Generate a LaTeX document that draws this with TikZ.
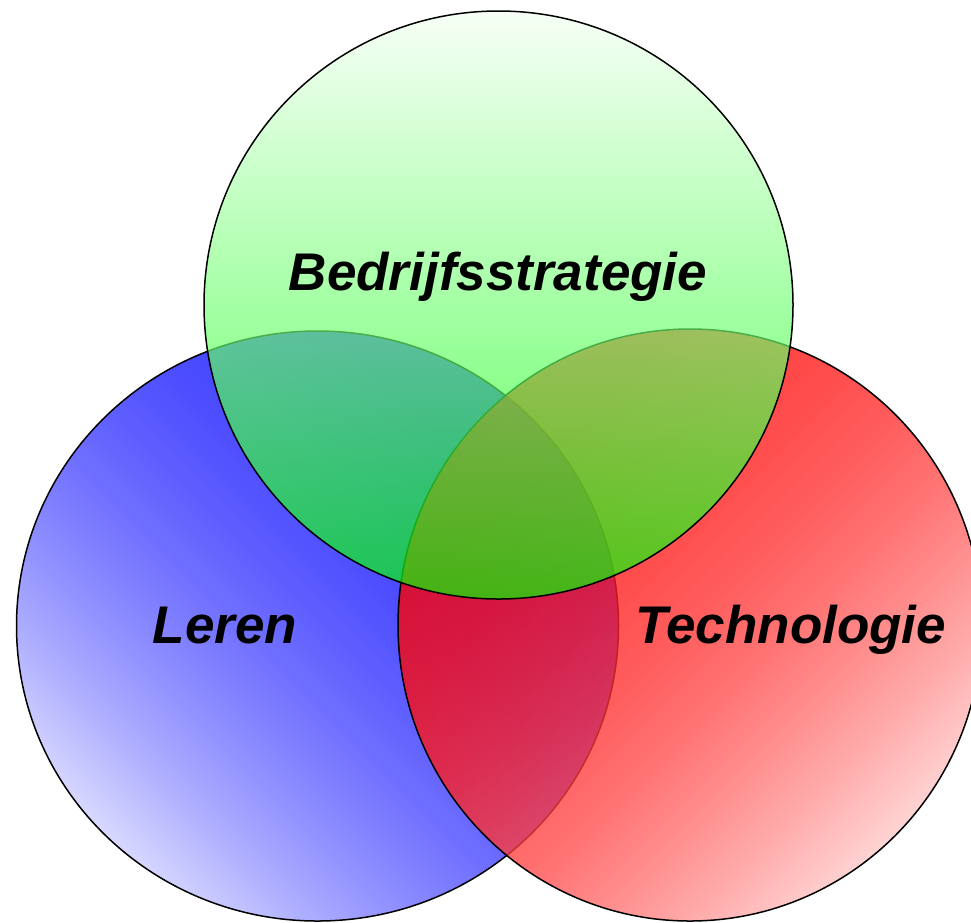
\documentclass[tikz,border=0pt]{standalone}
\usepackage{fontspec}
\setmainfont{Liberation Sans}
% soft diagonal fades for the two lower sets
\pgfdeclareverticalshading{bluefade}{100bp}{color(0bp)=(blue!20); color(25bp)=(blue!20); color(31.25bp)=(blue!39); color(37.5bp)=(blue!55); color(43.75bp)=(blue!69); color(50bp)=(blue!80); color(56.25bp)=(blue!89); color(62.5bp)=(blue!95); color(68.75bp)=(blue!99); color(75bp)=(blue); color(100bp)=(blue)}
\pgfdeclareverticalshading{redfade}{100bp}{color(0bp)=(red!22); color(25bp)=(red!22); color(31.25bp)=(red!40); color(37.5bp)=(red!56); color(43.75bp)=(red!70); color(50bp)=(red!81); color(56.25bp)=(red!89); color(62.5bp)=(red!95); color(68.75bp)=(red!99); color(75bp)=(red); color(100bp)=(red)}
\begin{document}
\begin{tikzpicture}[x=1pt,y=-1pt,
  venn/.style={draw=black,line width=1.5pt},
  vname/.style={font=\fontsize{53}{60}\selectfont\bfseries\itshape,anchor=base,inner sep=0pt}]
\useasboundingbox (0,0) rectangle (971,922);
\coordinate (cL) at (317.5,626);
\coordinate (cT) at (690,625);
\coordinate (cB) at (498.5,305);
\shade[venn,fill opacity=0.78,shading=bluefade,shading angle=-45] (cL) ellipse [x radius=301,y radius=295];
\shade[venn,fill opacity=0.78,shading=redfade,shading angle=45] (cT) ellipse [x radius=292,y radius=296];
\shade[venn,fill opacity=0.68,top color=green!5,bottom color=green] (cB) ellipse [x radius=294.5,y radius=294];
\node[vname] (leren) at (225,643) {Leren};
\node[vname] (tech) at (791,643) {Technologie};
\node[vname] (strat) at (498,290) {Bedrijfsstrategie};
\end{tikzpicture}
\end{document}
